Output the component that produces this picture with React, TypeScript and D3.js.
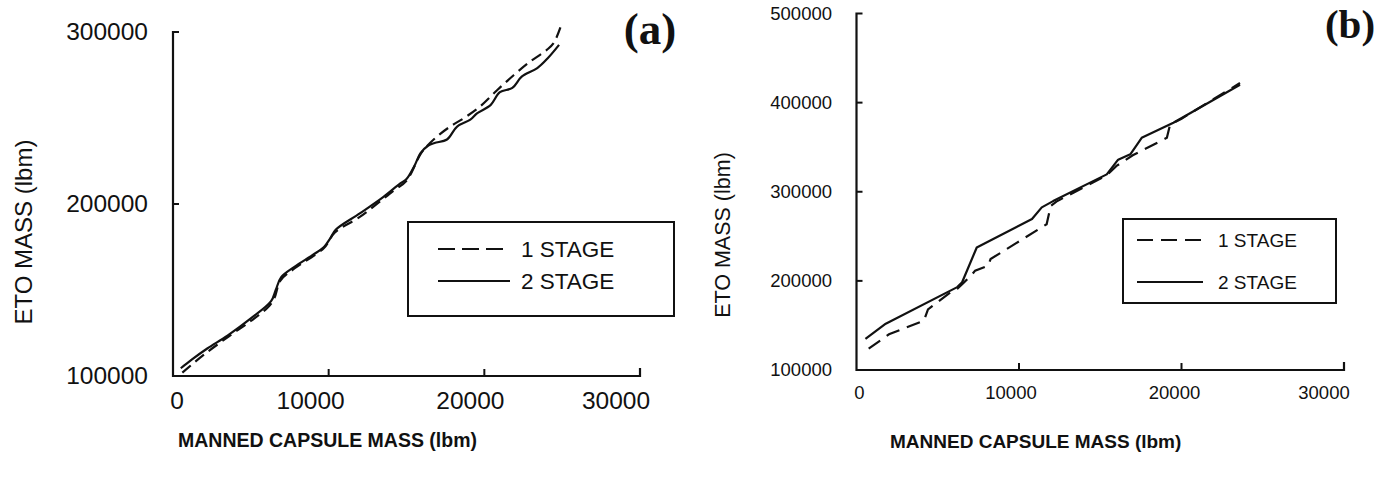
import React from "react";
import * as d3 from "d3";

type Pt = [number, number];

// Panel (a): ETO mass vs manned capsule mass
const aOneStage: Pt[] = [
  [600, 102000], [2000, 112500], [3500, 122500], [5000, 132000], [6100, 140000],
  [6500, 145000], [6900, 155500], [7800, 162500], [9700, 174500], [10400, 183500],
  [12000, 192500], [14200, 208000], [15000, 213500], [15900, 229000], [16300, 233500],
  [17000, 239500], [17800, 245000], [18700, 250000], [19700, 256500], [20800, 266000],
  [21900, 275000], [22900, 282500], [24000, 289500], [24450, 293500], [24900, 303000],
];
const aTwoStage: Pt[] = [
  [500, 104500], [1200, 109500], [2200, 116000], [3500, 123500], [5000, 133500],
  [6300, 143500], [6600, 150000], [6950, 157500], [7800, 163500], [9000, 170500],
  [9700, 175000], [10100, 180000], [10450, 185000], [12000, 194500], [13500, 204000],
  [14600, 212000], [15000, 214500], [15500, 222000], [15900, 229500], [16400, 234000],
  [16800, 235500], [17600, 237500], [18250, 245000], [19100, 249000], [19550, 252800],
  [20400, 257500], [21000, 265000], [21800, 267500], [22400, 274000], [23400, 279000],
  [24100, 285000], [24800, 292500],
];

// Panel (b)
const bOneStage: Pt[] = [
  [750, 124000], [2000, 140000], [4150, 155500], [4400, 168000], [5800, 187500],
  [6200, 191000], [6600, 198000], [7100, 207000], [7300, 211500], [8100, 217000],
  [8250, 224500], [11700, 263500], [11950, 284000], [12300, 289000], [15400, 318500],
  [16000, 329000], [17000, 341000], [19100, 360500], [19300, 375500], [20000, 382000],
  [23600, 422000],
];
const bTwoStage: Pt[] = [
  [550, 135000], [1800, 152000], [6200, 193000], [6500, 198500], [7400, 237500],
  [10800, 269500], [11400, 282500], [12100, 289500], [15400, 319500], [16100, 336000],
  [16850, 342000], [17550, 360500], [19500, 377500], [23600, 420000],
];

const xTicks = [0, 10000, 20000, 30000];
const aYTicks = [100000, 200000, 300000];
const bYTicks = [100000, 200000, 300000, 400000, 500000];
const legendLabels = ["1 STAGE", "2 STAGE"];
const xTitle = "MANNED CAPSULE MASS (lbm)";
const yTitle = "ETO MASS (lbm)";

const SANS = "'Liberation Sans', Arial, sans-serif";
const SERIF = "'Liberation Serif', 'Times New Roman', serif";
const INK = "#111";

interface PanelProps {
  xRange: [number, number];
  yDomain: [number, number];
  yRange: [number, number];
  yTicks: number[];
  one: Pt[];
  two: Pt[];
  curve: d3.CurveFactory;
  dash: string;
  tickFont: number;
  xLabelNudge: number[];
  xLabelBaseline: number;
  yLabelRight: number;
  yLabelShift: number;
  yTitleX: number;
  yTitleY: number;
  yTitleFont: number;
  xTitleX: number;
  xTitleY: number;
  xTitleFont: number;
  legend: { x: number; y: number; w: number; h: number; font: number; lx0: number; lx1: number; tx: number; r1: number; r2: number; dash: string; dy: number };
  tag: string;
  tagX: number;
  tagY: number;
  tagFont: number;
}

function Panel(p: PanelProps) {
  const x = d3.scaleLinear().domain([0, 30000]).range(p.xRange);
  const y = d3.scaleLinear().domain(p.yDomain).range(p.yRange);
  const line = d3
    .line<Pt>()
    .x((d) => x(d[0]))
    .y((d) => y(d[1]))
    .curve(p.curve);
  const x0 = x(0);
  const x1 = x(30000);
  const yb = y(p.yDomain[0]);
  const yt = y(p.yDomain[1]);
  const L = p.legend;
  return (
    <g>
      <path
        d={`M${x0 + 6},${yt} H${x0} V${yb} H${x1} V${yb - 8}`}
        fill="none"
        stroke={INK}
        strokeWidth={2.2}
      />
      {p.yTicks.slice(1, -1).map((t) => (
        <line key={t} x1={x0} x2={x0 + 6} y1={y(t)} y2={y(t)} stroke={INK} strokeWidth={2} />
      ))}
      {xTicks.slice(1, -1).map((t) => (
        <line key={t} x1={x(t)} x2={x(t)} y1={yb} y2={yb - 7} stroke={INK} strokeWidth={2} />
      ))}
      {p.yTicks.map((t) => (
        <text
          key={t}
          x={p.yLabelRight}
          y={y(t) + p.yLabelShift}
          textAnchor="end"
          fontFamily={SANS}
          fontSize={p.tickFont}
          fill={INK}
        >
          {t}
        </text>
      ))}
      {xTicks.map((t, i) => (
        <text
          key={t}
          x={x(t) + p.xLabelNudge[i]}
          y={p.xLabelBaseline}
          textAnchor="middle"
          fontFamily={SANS}
          fontSize={p.tickFont}
          fill={INK}
        >
          {t}
        </text>
      ))}
      <text
        transform={`translate(${p.yTitleX},${p.yTitleY}) rotate(-90)`}
        textAnchor="middle"
        fontFamily={SANS}
        fontSize={p.yTitleFont}
        fill={INK}
      >
        {yTitle}
      </text>
      <text
        x={p.xTitleX}
        y={p.xTitleY}
        textAnchor="start"
        fontFamily={SANS}
        fontSize={p.xTitleFont}
        fontWeight={600}
        fill={INK}
      >
        {xTitle}
      </text>
      <path d={line(p.two) ?? ""} fill="none" stroke={INK} strokeWidth={2.2} strokeLinejoin="round" />
      <path
        d={line(p.one) ?? ""}
        fill="none"
        stroke={INK}
        strokeWidth={2.2}
        strokeDasharray={p.dash}
      />
      <rect x={L.x} y={L.y} width={L.w} height={L.h} fill="white" stroke={INK} strokeWidth={2} />
      <line x1={L.lx0} x2={L.lx1} y1={L.r1} y2={L.r1} stroke={INK} strokeWidth={2} strokeDasharray={L.dash} />
      <line x1={L.lx0} x2={L.lx1} y1={L.r2} y2={L.r2} stroke={INK} strokeWidth={2} />
      {legendLabels.map((s, i) => (
        <text
          key={s}
          x={L.tx}
          y={(i === 0 ? L.r1 : L.r2) + L.dy}
          fontFamily={SANS}
          fontSize={L.font}
          fill={INK}
        >
          {s}
        </text>
      ))}
      <text x={p.tagX} y={p.tagY} fontFamily={SERIF} fontWeight="bold" fontSize={p.tagFont} fill={INK} textAnchor="middle">
        {p.tag}
      </text>
    </g>
  );
}

export default function App() {
  return (
    <svg
      width={1397}
      height={482}
      style={{ display: "block", position: "absolute", left: 0, top: 0, background: "white" }}
    >
      <Panel
        xRange={[173, 640]}
        yDomain={[100000, 300000]}
        yRange={[376, 32]}
        yTicks={aYTicks}
        one={aOneStage}
        two={aTwoStage}
        curve={d3.curveCatmullRom}
        dash="11,6"
        tickFont={24.5}
        xLabelNudge={[4, -18, -14, -24]}
        xLabelBaseline={409}
        yLabelRight={148}
        yLabelShift={8}
        yTitleX={32}
        yTitleY={232}
        yTitleFont={24}
        xTitleX={178}
        xTitleY={447}
        xTitleFont={19.5}
        legend={{ x: 408, y: 222, w: 266, h: 94, font: 22.5, lx0: 438, lx1: 510, tx: 521, r1: 249, r2: 281, dash: "17,7", dy: 8 }}
        tag="(a)"
        tagX={650}
        tagY={44}
        tagFont={45}
      />
      <Panel
        xRange={[856.5, 1344]}
        yDomain={[100000, 500000]}
        yRange={[370, 13.5]}
        yTicks={bYTicks}
        one={bOneStage}
        two={bTwoStage}
        curve={d3.curveLinear}
        dash="14,8"
        tickFont={18.5}
        xLabelNudge={[3, -8, -7, -20]}
        xLabelBaseline={399}
        yLabelRight={832}
        yLabelShift={6}
        yTitleX={730}
        yTitleY={235}
        yTitleFont={21.5}
        xTitleX={890}
        xTitleY={448}
        xTitleFont={19}
        legend={{ x: 1123, y: 219, w: 213, h: 84, font: 19, lx0: 1137, lx1: 1203, tx: 1218, r1: 240, r2: 282, dash: "16,8", dy: 7 }}
        tag="(b)"
        tagX={1350}
        tagY={38}
        tagFont={41}
      />
    </svg>
  );
}
